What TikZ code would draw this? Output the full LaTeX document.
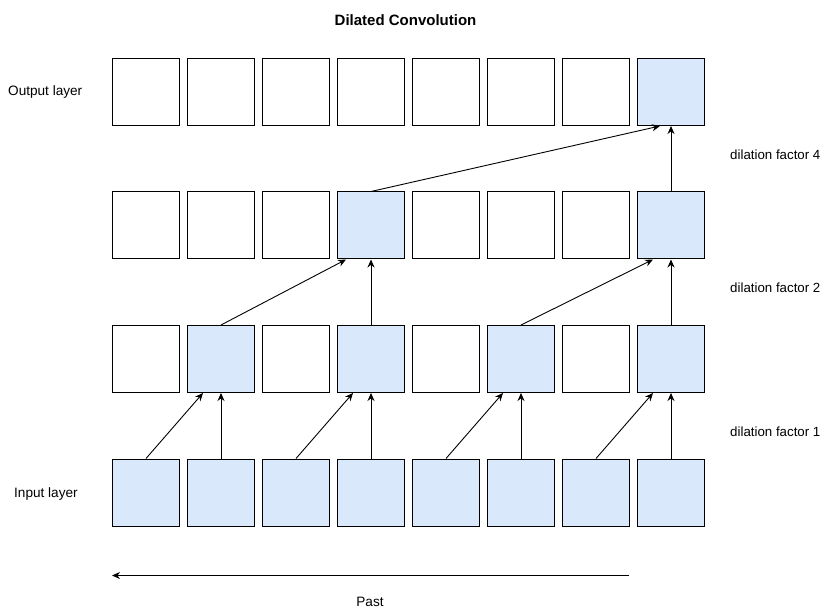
\documentclass[tikz,border=0pt]{standalone}
\usepackage{fontspec}
\setmainfont{Liberation Sans}
\usetikzlibrary{arrows.meta}
\definecolor{cellblue}{HTML}{DAE8FC}
\tikzset{
  cell/.style={draw=black, line width=1pt, fill=white, minimum width=67pt, minimum height=67pt, inner sep=0pt, anchor=north west},
  hot/.style={cell, fill=cellblue},
  arr/.style={draw=black, line width=0.9pt, -{Stealth[length=8pt,width=7pt]}},
  lbl/.style={anchor=base west, inner sep=0pt, font=\fontsize{13.3}{15}\selectfont},
}
\begin{document}
\begin{tikzpicture}[x=1pt,y=-1pt]
\useasboundingbox (0,0) rectangle (822,609);
% rows: 1 top (output) ... 4 bottom (input)
\foreach \r/\y in {1/58,2/191.5,3/325,4/458.5}{
  \foreach \c in {1,...,8}{
    \pgfmathsetmacro{\xx}{112+75*(\c-1)}
    \node[cell] (b\r\c) at (\xx,\y) {};
  }
}
% highlighted cells
\node[hot] (h18) at (b18.north west) {};
\node[hot] (h24) at (b24.north west) {};
\node[hot] (h28) at (b28.north west) {};
\foreach \c in {2,4,6,8}{
  \node[hot] (h3\c) at (b3\c.north west) {};
}
\foreach \c in {1,...,8}{
  \node[hot] (h4\c) at (b4\c.north west) {};
}
% input -> layer 3 (dilation 1)
\foreach \a/\b in {1/2,3/4,5/6,7/8}{
  \draw[arr] (h4\a.north) -- ([xshift=16pt]h3\b.south west);
  \draw[arr] (h4\b.north) -- (h3\b.south);
}
% layer 3 -> layer 2 (dilation 2)
\draw[arr] (h32.north) -- ([xshift=9pt]h24.south west);
\draw[arr] (h34.north) -- (h24.south);
\draw[arr] (h36.north) -- ([xshift=16pt]h28.south west);
\draw[arr] (h38.north) -- (h28.south);
% layer 2 -> output (dilation 4)
\draw[arr] (h24.north) -- ([xshift=23pt]h18.south west);
\draw[arr] (h28.north) -- (h18.south);
% labels
\node[anchor=base, inner sep=0pt, font=\fontsize{15}{17}\selectfont\bfseries] (title) at (405.5,26) {Dilated Convolution};
\node[lbl, font=\fontsize{13.6}{15}\selectfont] (lout) at (8,96) {Output layer};
\node[lbl, font=\fontsize{13.6}{15}\selectfont] (lin) at (14,497) {Input layer};
\node[lbl] (d4) at (730,160) {dilation factor 4};
\node[lbl] (d2) at (730,293) {dilation factor 2};
\node[lbl] (d1) at (730,436.5) {dilation factor 1};
% past arrow
\coordinate (pstart) at (629,575.5);
\coordinate (pend) at (112,575.5);
\draw[arr] (pstart) -- (pend);
\node[anchor=base, inner sep=0pt, font=\fontsize{13.6}{15}\selectfont] (past) at (370,606) {Past};
\end{tikzpicture}
\end{document}
